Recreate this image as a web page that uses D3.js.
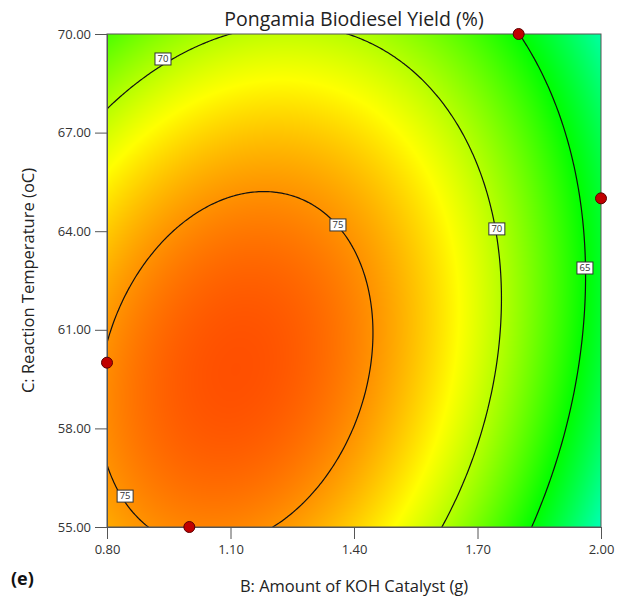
<!DOCTYPE html>
<html>
<head>
<meta charset="utf-8">
<script src="https://cdn.jsdelivr.net/npm/d3@7"></script>
<style>
  html, body { margin: 0; padding: 0; background: #ffffff; }
  svg { display: block; font-family: "Open Sans", "Noto Sans", sans-serif; }
</style>
</head>
<body>
<svg id="chart" width="622" height="602"></svg>
<script>
// ---------------- data ----------------
const chartTitle = "Pongamia Biodiesel Yield (%)";
const xTitle = "B: Amount of KOH Catalyst (g)";
const yTitle = "C: Reaction Temperature (oC)";
const panelLabel = "(e)";

const xDomain = [0.80, 2.00];              // B: KOH catalyst (g)
const yDomain = [55.00, 70.00];            // C: reaction temperature
const xTicks = [0.80, 1.10, 1.40, 1.70, 2.00];
const yTicks = [55.00, 58.00, 61.00, 64.00, 67.00, 70.00];

// Quadratic response model in coded units
// terms: [intercept, B, C, BC, B^2, C^2]
const modelCoefficients = [75.27, -5.19, -1.70, 1.95, -6.15, -3.65];

const contourLevels = [65, 70, 75];
// contour label anchors (B, C, level)
const labelB = [0.936, 1.361, 1.747, 0.844, 1.961];
const labelC = [69.24, 64.19, 64.07, 55.94, 62.88];
const labelLevel = [70, 75, 70, 75, 65];

// design points
const pointB = [1.80, 2.00, 0.80, 1.00];
const pointC = [70.00, 65.00, 60.00, 55.00];

// colour map (response value -> colour)
const colorValues = [51, 58, 65, 72, 79];
const colorRange = ["#0000ff", "#00ffff", "#00ff00", "#ffff00", "#ff0000"];

// ---------------- model ----------------
const bMid = (xDomain[0] + xDomain[1]) / 2, bHalf = (xDomain[1] - xDomain[0]) / 2;
const cMid = (yDomain[0] + yDomain[1]) / 2, cHalf = (yDomain[1] - yDomain[0]) / 2;
function yieldAt(b, c) {
  const p = (b - bMid) / bHalf, q = (c - cMid) / cHalf;
  const k = modelCoefficients;
  return k[0] + k[1] * p + k[2] * q + k[3] * p * q + k[4] * p * p + k[5] * q * q;
}

// ---------------- layout ----------------
const svg = d3.select("#chart");
const L = 107, R = 601, T = 34, B = 527;
const x = d3.scaleLinear().domain(xDomain).range([L, R]);
const y = d3.scaleLinear().domain(yDomain).range([B, T]);
const color = d3.scaleLinear().domain(colorValues).range(colorRange)
  .interpolate(d3.interpolateRgb).clamp(true);

// heat map raster
const pw = R - L, ph = B - T;
const canvas = document.createElement("canvas");
canvas.width = pw; canvas.height = ph;
const ctx = canvas.getContext("2d");
const img = ctx.createImageData(pw, ph);
for (let j = 0; j < ph; j++) {
  const cv = y.invert(T + j + 0.5);
  for (let i = 0; i < pw; i++) {
    const bv = x.invert(L + i + 0.5);
    const c = d3.rgb(color(yieldAt(bv, cv)));
    const o = (j * pw + i) * 4;
    img.data[o] = c.r; img.data[o + 1] = c.g; img.data[o + 2] = c.b; img.data[o + 3] = 255;
  }
}
ctx.putImageData(img, 0, 0);

const defs = svg.append("defs");
defs.append("clipPath").attr("id", "plotClip")
  .append("rect").attr("x", L).attr("y", T).attr("width", pw).attr("height", ph);

svg.append("image")
  .attr("x", L).attr("y", T).attr("width", pw).attr("height", ph)
  .attr("preserveAspectRatio", "none")
  .attr("href", canvas.toDataURL());

// contour lines from a grid that extends beyond the plot
const gx0 = xDomain[0] - 0.1, gx1 = xDomain[1] + 0.1;
const gy0 = yDomain[0] - 1.5, gy1 = yDomain[1] + 1.5;
const nx = 300, ny = 300;
const dxg = (gx1 - gx0) / (nx - 1), dyg = (gy1 - gy0) / (ny - 1);
const grid = new Array(nx * ny);
for (let j = 0; j < ny; j++)
  for (let i = 0; i < nx; i++)
    grid[j * nx + i] = yieldAt(gx0 + i * dxg, gy0 + j * dyg);

const contours = d3.contours().size([nx, ny]).thresholds(contourLevels)(grid);
const proj = d3.geoTransform({
  point: function (cx, cy) {
    this.stream.point(x(gx0 + (cx - 0.5) * dxg), y(gy0 + (cy - 0.5) * dyg));
  }
});
const path = d3.geoPath(proj);
svg.append("g").attr("clip-path", "url(#plotClip)")
  .selectAll("path").data(contours).join("path")
  .attr("d", path)
  .attr("fill", "none")
  .attr("stroke", "#111")
  .attr("stroke-width", 1.2);

// frame
svg.append("rect").attr("x", L).attr("y", T).attr("width", pw).attr("height", ph)
  .attr("fill", "none").attr("stroke", "#555").attr("stroke-width", 1);

// axes
const xAxis = d3.axisBottom(x).tickValues(xTicks).tickFormat(d3.format(".2f"))
  .tickSize(12).tickSizeOuter(0).tickPadding(6);
const yAxis = d3.axisLeft(y).tickValues(yTicks).tickFormat(d3.format(".2f"))
  .tickSize(12).tickSizeOuter(0).tickPadding(4);
const gx = svg.append("g").attr("transform", `translate(0,${B})`).call(xAxis);
const gy = svg.append("g").attr("transform", `translate(${L},0)`).call(yAxis);
[gx, gy].forEach(g => {
  g.select(".domain").attr("stroke", "#555");
  g.selectAll(".tick line").attr("stroke", "#555");
  g.selectAll(".tick text").attr("fill", "#333").style("font-size", "13px")
    .style("font-family", "'Open Sans', sans-serif");
});

// contour labels
const labels = svg.append("g");
labelB.forEach((bv, i) => {
  const g = labels.append("g").attr("transform", `translate(${x(bv)},${y(labelC[i])})`);
  g.append("rect").attr("x", -8).attr("y", -6).attr("width", 16).attr("height", 12)
    .attr("fill", "#fff").attr("stroke", "#333").attr("stroke-width", 1);
  g.append("text").attr("text-anchor", "middle").attr("dy", "0.35em")
    .style("font-size", "9.5px").attr("fill", "#333").text(labelLevel[i]);
});

// design points
svg.append("g").selectAll("circle").data(pointB).join("circle")
  .attr("cx", d => x(d)).attr("cy", (d, i) => y(pointC[i])).attr("r", 5.5)
  .attr("fill", "#c00000").attr("stroke", "#5a0000").attr("stroke-width", 1);

// titles
svg.append("text").attr("x", (L + R) / 2).attr("y", 26).attr("text-anchor", "middle")
  .style("font-size", "19.5px").attr("fill", "#222").text(chartTitle);
svg.append("text").attr("x", (L + R) / 2).attr("y", 592).attr("text-anchor", "middle")
  .style("font-size", "16.5px").attr("fill", "#222").text(xTitle);
svg.append("text").attr("transform", `translate(34,${(T + B) / 2}) rotate(-90)`)
  .attr("text-anchor", "middle").style("font-size", "16.5px").attr("fill", "#222").text(yTitle);
svg.append("text").attr("x", 11).attr("y", 585)
  .style("font-size", "18px").style("font-weight", "bold").attr("fill", "#111").text(panelLabel);
</script>
</body>
</html>
